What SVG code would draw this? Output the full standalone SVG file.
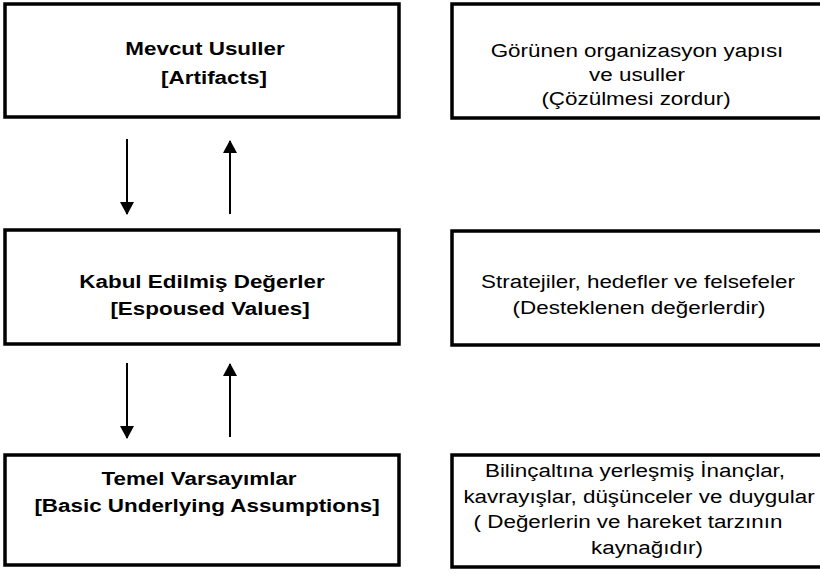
<svg xmlns="http://www.w3.org/2000/svg" width="820" height="575" viewBox="0 0 820 575">
<defs>
<style>
.box{fill:#fff;stroke:#000;stroke-width:3.5}
.b{font-family:"Liberation Sans",Arial,sans-serif;font-size:19px;font-weight:bold;text-anchor:middle;fill:#000}
.r{font-family:"Liberation Sans",Arial,sans-serif;font-size:19px;text-anchor:middle;fill:#000}
.c{stroke:#000;stroke-width:2;fill:none}
</style>
<marker id="ah" viewBox="0 0 13 14" refX="12" refY="7" markerWidth="13" markerHeight="14" orient="auto" markerUnits="userSpaceOnUse"><path d="M0,0 L13,7 L0,14 z" fill="#000"/></marker>
</defs>
<rect width="820" height="575" fill="#fff"/>
<g id="artifacts">
<rect class="box" x="5" y="4" width="394" height="113"/>
<text class="b" transform="translate(205 55) scale(1.18 1)">Mevcut Usuller</text>
<text class="b" transform="translate(214 84) scale(1.18 1)">[Artifacts]</text>
</g>
<g id="artifacts-desc">
<rect class="box" x="452" y="4" width="380" height="114"/>
<text class="r" transform="translate(637 57) scale(1.18 1)">Görünen organizasyon yapısı</text>
<text class="r" transform="translate(637 81) scale(1.18 1)">ve usuller</text>
<text class="r" transform="translate(636 105) scale(1.18 1)">(Çözülmesi zordur)</text>
</g>
<g id="values">
<rect class="box" x="5" y="230" width="394" height="114"/>
<text class="b" transform="translate(202 288) scale(1.18 1)">Kabul Edilmiş Değerler</text>
<text class="b" transform="translate(210 315) scale(1.18 1)">[Espoused Values]</text>
</g>
<g id="values-desc">
<rect class="box" x="452" y="231" width="380" height="114"/>
<text class="r" transform="translate(638 288) scale(1.18 1)">Stratejiler, hedefler ve felsefeler</text>
<text class="r" transform="translate(639 314) scale(1.18 1)">(Desteklenen değerlerdir)</text>
</g>
<g id="assumptions">
<rect class="box" x="5" y="455" width="394" height="110"/>
<text class="b" transform="translate(199 485) scale(1.18 1)">Temel Varsayımlar</text>
<text class="b" transform="translate(207 512) scale(1.18 1)">[Basic Underlying Assumptions]</text>
</g>
<g id="assumptions-desc">
<rect class="box" x="452" y="455" width="380" height="112"/>
<text class="r" transform="translate(635 477) scale(1.18 1)">Bilinçaltına yerleşmiş İnançlar,</text>
<text class="r" transform="translate(639 503) scale(1.18 1)">kavrayışlar, düşünceler ve duygular</text>
<text class="r" transform="translate(628 528) scale(1.18 1)">( Değerlerin ve hareket tarzının</text>
<text class="r" transform="translate(647 554) scale(1.18 1)">kaynağıdır)</text>
</g>
<g id="connectors">
<line class="c" x1="127" y1="139" x2="127" y2="214" marker-end="url(#ah)"/>
<line class="c" x1="230" y1="214" x2="230" y2="141" marker-end="url(#ah)"/>
<line class="c" x1="127" y1="363" x2="127" y2="438" marker-end="url(#ah)"/>
<line class="c" x1="230" y1="437" x2="230" y2="364" marker-end="url(#ah)"/>
</g>
</svg>
